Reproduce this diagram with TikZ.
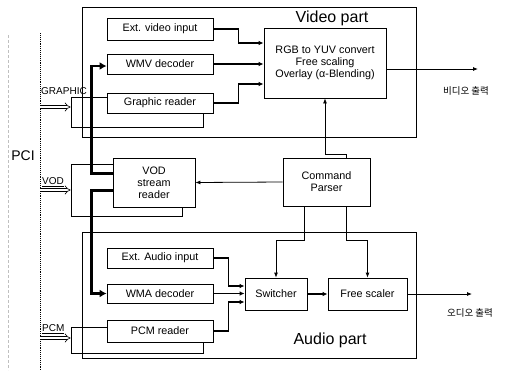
\documentclass[tikz,border=0pt]{standalone}
\usepackage{fontspec}
\setmainfont{Liberation Sans}
\newfontfamily\kr{Noto Sans CJK KR}
\usetikzlibrary{arrows.meta}
\begin{document}
\begin{tikzpicture}[x=1pt,y=-1pt,
  box/.style={draw,fill=white,line width=0.8pt,inner sep=0pt,align=center,font=\fontsize{10.8}{12}\selectfont},
  frame/.style={draw,line width=0.7pt,inner sep=0pt},
  part/.style={draw,line width=0.9pt,inner sep=0pt},
  arr/.style={line width=0.8pt,-{Latex[length=5pt,width=4pt]}},
  midarr/.style={line width=1.7pt,-{Latex[length=5pt,width=4.5pt]}},
  bigarr/.style={line width=2.8pt,-{Latex[length=7pt,width=8pt]}},
  busarr/.style={double,double distance=2.5pt,line width=0.6pt,-{Implies}},
  lbl/.style={inner sep=0pt,font=\fontsize{10}{11}\selectfont}
]
\useasboundingbox (0,0) rectangle (521,370);
% PCI bus
\draw[gray!50,densely dashed,line width=0.6pt] (8,35) -- (8,370);
\draw[densely dotted,line width=0.9pt] (40,33) -- (40,370);
\node[inner sep=0pt,font=\fontsize{14}{16}\selectfont] (pci) at (23,156) {PCI};

% parts
\node[part,minimum width=334pt,minimum height=130pt] (video) at (249,72) {};
\node[part,minimum width=334pt,minimum height=126pt] (audio) at (249,295) {};
\node[inner sep=0pt,font=\fontsize{16}{18}\selectfont] (vlabel) at (332,18) {Video part};
\node[inner sep=0pt,font=\fontsize{16}{18}\selectfont] (alabel) at (330,340) {Audio part};

% outline frames
\node[frame,minimum width=132pt,minimum height=30pt] (gframe) at (137,112) {};
\node[frame,minimum width=111pt,minimum height=52pt] (vframe) at (126.5,190) {};
\node[frame,minimum width=132pt,minimum height=26pt] (pframe) at (137,340) {};

% video boxes
\node[box,minimum width=106pt,minimum height=22pt] (ext) at (160,29) {Ext. video input};
\node[box,minimum width=106pt,minimum height=20pt] (wmv) at (160,64) {WMV decoder};
\node[box,minimum width=106pt,minimum height=20pt] (graphic) at (160,103) {Graphic reader};
\node[box,minimum width=122pt,minimum height=70pt] (rgb) at (325,63) {RGB to YUV convert\\Free scaling\\Overlay (α-Blending)};

% middle
\node[box,minimum width=82pt,minimum height=49pt] (vod) at (154,182.5) {VOD\\stream\\reader};
\node[box,minimum width=87pt,minimum height=48pt] (cmd) at (326.5,182) {Command\\Parser};

% audio boxes
\node[box,minimum width=106pt,minimum height=20pt] (exta) at (160,258) {Ext. Audio input};
\node[box,minimum width=106pt,minimum height=19pt] (wma) at (160,293.5) {WMA decoder};
\node[box,minimum width=106pt,minimum height=22pt] (pcm) at (160,331) {PCM reader};
\node[box,minimum width=62pt,minimum height=32pt] (switcher) at (276,294) {Switcher};
\node[box,minimum width=79pt,minimum height=32pt] (scaler) at (367.5,294) {Free scaler};

% bus inputs
\coordinate (gin) at (40,107);
\coordinate (vin) at (40,190);
\coordinate (pin) at (40,338);
\draw[busarr] (gin) -- (gin -| gframe.west);
\draw[busarr] (vin) -- (vin -| vframe.west);
\draw[busarr] (pin) -- (pin -| pframe.west);
\node[lbl,anchor=south west] (glbl) at (41,95) {GRAPHIC};
\node[lbl,anchor=south west] (vlbl) at (42,187) {\underline{VOD}};
\node[lbl,anchor=south west] (plbl) at (42,334) {\underline{PCM}};

% video connectors
\draw[midarr] (ext.east) -- ++(25,0) |- ([yshift=20pt]rgb.west);
\draw[midarr] (wmv.east) -- (rgb.west |- wmv.east);
\draw[midarr] (graphic.east) -- ++(25,0) |- ([yshift=-21pt]rgb.west);
\coordinate (vout) at (478,69);
\draw[arr] ([yshift=-6pt]rgb.east) -- (vout);
\node[inner sep=0pt,font=\kr\fontsize{9.5}{10}\selectfont] (voutl) at (466,91) {비디오 출력};

% VOD thick connectors
\draw[bigarr] ([yshift=9pt]vod.west) -- ++(-21,0) |- ([yshift=-2pt]wmv.west);
\draw[bigarr] ([yshift=-8pt]vod.west) -- ++(-21,0) |- (wma.west);

% command parser connectors
\draw[arr] ([xshift=20pt]cmd.north) -- ++(0,-3) -| (rgb.south);
\draw[arr] (cmd.west) -- (vod.east);
\draw[arr] ([xshift=-22pt]cmd.south) -- ++(0,34) -| (switcher.north);
\draw[arr] ([xshift=20pt]cmd.south) -- ++(0,34) -| (scaler.north);

% audio connectors
\draw[midarr] (exta.east) -- ++(15,0) |- ([yshift=8pt]switcher.west);
\draw[midarr] (wma.east) -- (switcher.west |- wma.east);
\draw[midarr] (pcm.east) -- ++(15,0) |- ([yshift=-8pt]switcher.west);
\draw[midarr] (switcher.east) -- (scaler.west);
\coordinate (aout) at (472,294);
\draw[arr] (scaler.east) -- (aout);
\node[inner sep=0pt,font=\kr\fontsize{9.5}{10}\selectfont] (aoutl) at (470,313) {오디오 출력};
\end{tikzpicture}
\end{document}
